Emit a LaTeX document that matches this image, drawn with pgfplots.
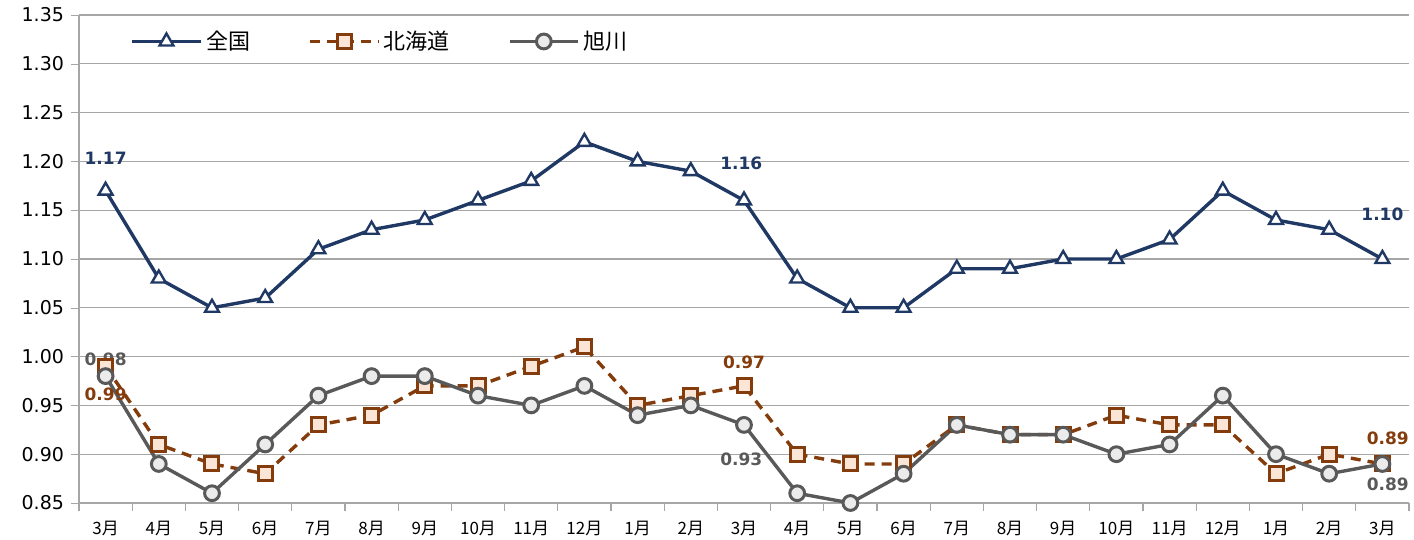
\documentclass[border=0pt]{standalone}
\usepackage{pgfplots}
\pgfplotsset{compat=1.18}
\usepackage{fontspec}
\setmainfont{DejaVu Sans}
\newfontfamily\jp{Noto Sans CJK JP}
\definecolor{navy}{RGB}{31,56,100}
\definecolor{brown}{RGB}{132,60,12}
\definecolor{peach}{RGB}{251,229,214}
\definecolor{dgray}{RGB}{89,89,89}
\definecolor{lgray}{RGB}{235,235,235}
\definecolor{gridc}{RGB}{166,166,166}
\begin{document}
\begin{tikzpicture}
\useasboundingbox (-39.5pt,-18.5pt) rectangle (667.5pt,251.5pt);
\begin{axis}[
  at={(0,0)}, anchor=south west,
  scale only axis, width=665pt, height=244pt,
  xmin=-0.5, xmax=24.5, ymin=0.85, ymax=1.35,
  xtick={0,...,24},
  xticklabels={3月,4月,5月,6月,7月,8月,9月,10月,11月,12月,1月,2月,3月,4月,5月,6月,7月,8月,9月,10月,11月,12月,1月,2月,3月},
  x tick label style={font=\jp\fontsize{8.5}{10}\selectfont, yshift=-1.5pt},
  minor xtick={-0.5,0.5,...,24.5},
  major x tick style={draw=none},
  minor x tick style={draw=gridc, line width=0.6pt},
  tick align=outside,
  minor tick length=4pt,
  ytick={0.85,0.90,...,1.36},
  y tick label style={font=\fontsize{9.5}{11}\selectfont, /pgf/number format/.cd, fixed, fixed zerofill, precision=2},
  /pgf/number format/assume math mode=true,
  major y tick style={draw=gridc},
  major tick length=4pt,
  ymajorgrids, grid style={gridc, line width=0.6pt},
  axis x line*=bottom, axis y line*=left,
  axis line style={gridc, line width=0.6pt},
  every outer x axis line/.append style={-}, every outer y axis line/.append style={-},
  clip=false,
  legend style={at={(0.034,0.985)}, anchor=north west, draw=none, fill=none,
    legend columns=3, font=\jp\fontsize{11}{12}\selectfont,
    /tikz/every even column/.append style={column sep=27pt}},
  legend image code/.code={
    \draw[mark repeat=2, mark phase=2, #1] plot coordinates {(0cm,0cm) (0.6cm,0cm) (1.2cm,0cm)};},
]
\addplot[navy, line width=1.7pt, mark=triangle*, mark size=4pt, mark options={fill=white, solid, line width=1.2pt}]
coordinates {(0,1.17)(1,1.08)(2,1.05)(3,1.06)(4,1.11)(5,1.13)(6,1.14)(7,1.16)(8,1.18)(9,1.22)(10,1.20)(11,1.19)(12,1.16)(13,1.08)(14,1.05)(15,1.05)(16,1.09)(17,1.09)(18,1.10)(19,1.10)(20,1.12)(21,1.17)(22,1.14)(23,1.13)(24,1.10)};
\addlegendentry{全国}
\addplot[brown, line width=1.7pt, dash pattern=on 5pt off 3.5pt, mark=square*, mark size=3.5pt, mark options={fill=peach, solid, line width=1.5pt}]
coordinates {(0,0.99)(1,0.91)(2,0.89)(3,0.88)(4,0.93)(5,0.94)(6,0.97)(7,0.97)(8,0.99)(9,1.01)(10,0.95)(11,0.96)(12,0.97)(13,0.90)(14,0.89)(15,0.89)(16,0.93)(17,0.92)(18,0.92)(19,0.94)(20,0.93)(21,0.93)(22,0.88)(23,0.90)(24,0.89)};
\addlegendentry{北海道}
\addplot[dgray, line width=1.7pt, mark=*, mark size=3.7pt, mark options={fill=lgray, solid, line width=1.5pt}]
coordinates {(0,0.98)(1,0.89)(2,0.86)(3,0.91)(4,0.96)(5,0.98)(6,0.98)(7,0.96)(8,0.95)(9,0.97)(10,0.94)(11,0.95)(12,0.93)(13,0.86)(14,0.85)(15,0.88)(16,0.93)(17,0.92)(18,0.92)(19,0.90)(20,0.91)(21,0.96)(22,0.90)(23,0.88)(24,0.89)};
\addlegendentry{旭川}
\begin{scope}[font=\bfseries\fontsize{8.5}{10}\selectfont]
\node[navy] at (axis cs:0,1.2035) {1.17};
\node[navy] at (axis cs:11.95,1.198) {1.16};
\node[navy] at (axis cs:24,1.146) {1.10};
\node[brown] at (axis cs:0,0.961) {0.99};
\node[brown] at (axis cs:12,0.994) {0.97};
\node[brown] at (axis cs:24.1,0.9166) {0.89};
\node[dgray] at (axis cs:0,0.9975) {0.98};
\node[dgray] at (axis cs:11.95,0.895) {0.93};
\node[dgray] at (axis cs:24.1,0.869) {0.89};
\end{scope}
\end{axis}
\end{tikzpicture}
\end{document}
